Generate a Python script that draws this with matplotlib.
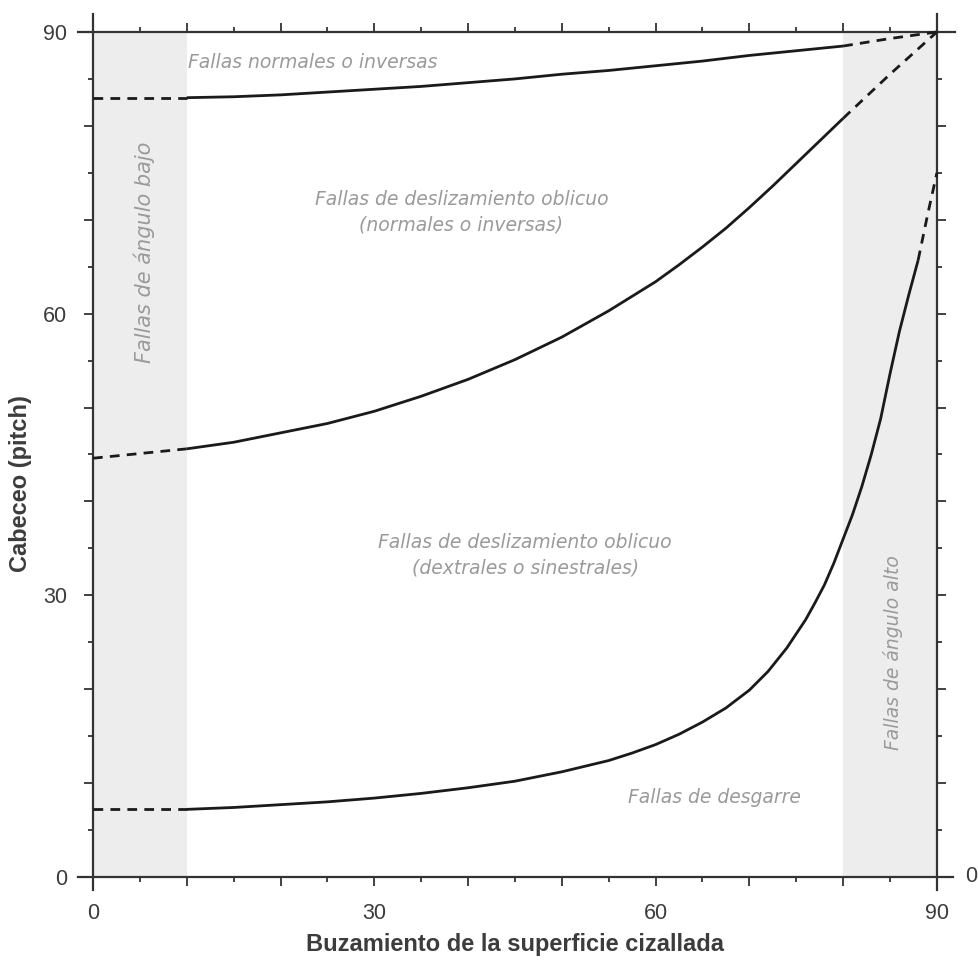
import matplotlib
matplotlib.use("Agg")
import matplotlib.pyplot as plt

# buzamiento (dip) vs cabeceo (pitch)
dip_top = [10, 15, 20, 25, 30, 35, 40, 45, 50, 55, 60, 65, 70, 75, 80]
pitch_top = [83.0, 83.1, 83.3, 83.6, 83.9, 84.2, 84.6, 85.0, 85.5, 85.9, 86.4, 86.9,
             87.5, 88.0, 88.5]

dip_mid = [10, 15, 20, 25, 30, 35, 40, 45, 50, 55, 60, 62.5, 65, 67.5, 70, 72.5, 75,
           77.5, 80]
pitch_mid = [45.6, 46.3, 47.3, 48.3, 49.6, 51.2, 53.0, 55.1, 57.5, 60.3, 63.4, 65.2,
             67.1, 69.1, 71.3, 73.6, 76.0, 78.4, 80.8]

dip_bot = [10, 15, 20, 25, 30, 35, 40, 45, 50, 55, 57.5, 60, 62.5, 65, 67.5, 70, 72,
           74, 76, 77, 78, 79, 80, 81, 82, 83, 84, 85, 86, 87, 88]
pitch_bot = [7.2, 7.4, 7.7, 8.0, 8.4, 8.9, 9.5, 10.2, 11.2, 12.4, 13.2, 14.1, 15.2,
             16.5, 18.0, 19.9, 21.9, 24.4, 27.4, 29.2, 31.1, 33.4, 36.0, 38.6, 41.6,
             45.0, 48.8, 53.6, 58.1, 62.0, 65.7]

# dashed extensions
dip_top_l, pitch_top_l = [0, 10], [83.0, 83.0]
dip_top_r, pitch_top_r = [80, 85, 90], [88.5, 89.3, 90.0]
dip_mid_l, pitch_mid_l = [0, 5, 10], [44.6, 45.1, 45.6]
dip_mid_r, pitch_mid_r = [80, 85, 90], [80.8, 85.5, 90.0]
dip_bot_l, pitch_bot_l = [0, 10], [7.2, 7.2]
dip_bot_r, pitch_bot_r = [88, 89, 90], [65.7, 70.5, 75.0]

bands = [(0, 10), (80, 90)]
ticks = list(range(0, 91, 10))
ticklabels = ['0', '', '', '30', '', '', '60', '', '', '90']
minor = list(range(5, 90, 10))

txt_col = '#9a9a9a'
ink = '#1a1a1a'
lab_col = '#3c3c3c'

fig = plt.figure(figsize=(9.79, 9.6), dpi=100)
ax = fig.add_axes([0.095, 0.0865, 0.862, 0.8802])
ax.set_xlim(0, 90)
ax.set_ylim(0, 90)

for a, b in bands:
    ax.axvspan(a, b, color='#ededed', lw=0, zorder=0)

for s in ax.spines.values():
    s.set_visible(False)
# axis lines crossing with a small overhang
ax.axhline(0, xmin=-0.018, xmax=1.019, color='#333333', lw=1.6, clip_on=False)
ax.axhline(90, xmin=-0.018, xmax=1.021, color='#333333', lw=1.6, clip_on=False)
ax.axvline(0, ymin=-0.015, ymax=1.021, color='#333333', lw=1.6, clip_on=False)
ax.axvline(90, ymin=-0.015, ymax=1.021, color='#333333', lw=1.6, clip_on=False)

lw = 2.0
ax.plot(dip_top, pitch_top, color=ink, lw=lw, solid_capstyle='butt', solid_joinstyle='round')
ax.plot(dip_mid, pitch_mid, color=ink, lw=lw, solid_capstyle='butt', solid_joinstyle='round')
ax.plot(dip_bot, pitch_bot, color=ink, lw=lw, solid_capstyle='butt', solid_joinstyle='round')
for xs, ys in [(dip_top_l, pitch_top_l), (dip_top_r, pitch_top_r),
               (dip_mid_l, pitch_mid_l), (dip_mid_r, pitch_mid_r),
               (dip_bot_l, pitch_bot_l), (dip_bot_r, pitch_bot_r)]:
    ax.plot(xs, ys, color=ink, lw=lw, dashes=(3.5, 2.6), clip_on=False)

ax.set_xticks(ticks)
ax.set_xticklabels(ticklabels)
ax.set_yticks(ticks)
ax.set_yticklabels(ticklabels)
ax.set_xticks(minor, minor=True)
ax.set_yticks(minor, minor=True)
ax.tick_params(which='both', direction='out', top=True, right=True,
               color='#333333', width=1.3, labelsize=15.5, labelcolor=lab_col)
ax.tick_params(which='major', length=6.5)
ax.tick_params(which='minor', length=3.5)
ax.tick_params(axis='x', which='major', pad=12)
ax.tick_params(axis='y', which='major', pad=12)
for t in ax.get_xticklabels() + ax.get_yticklabels():
    t.set_fontfamily('Liberation Sans')
ax.text(93.0, 0, '0', fontsize=15.5, color=lab_col, family='Liberation Sans',
        ha='left', va='center', clip_on=False)

ax.set_xlabel('Buzamiento de la superficie cizallada', fontsize=17,
              fontweight='bold', color=lab_col, family='Liberation Sans', labelpad=7)
ax.set_ylabel('Cabeceo (pitch)', fontsize=17, fontweight='bold',
              color=lab_col, family='Liberation Sans', labelpad=4)
ax.yaxis.set_label_coords(-0.072, 0.465)

kw = dict(color=txt_col, fontsize=13.5, style='italic', family='DejaVu Sans',
          ha='center', va='center', linespacing=1.45)
ax.text(23.4, 86.8, 'Fallas normales o inversas', **kw)
ax.text(39.3, 70.8, 'Fallas de deslizamiento oblicuo\n(normales o inversas)', **kw)
ax.text(46.1, 34.3, 'Fallas de deslizamiento oblicuo\n(dextrales o sinestrales)', **kw)
ax.text(66.3, 8.5, 'Fallas de desgarre', **kw)
kw['fontsize'] = 15
ax.text(5.5, 66.5, 'Fallas de ángulo bajo', rotation=90, **kw)
kw['fontsize'] = 13.5
ax.text(85.3, 23.9, 'Fallas de ángulo alto', rotation=90, **kw)

fig.savefig('out.png', dpi=100)
